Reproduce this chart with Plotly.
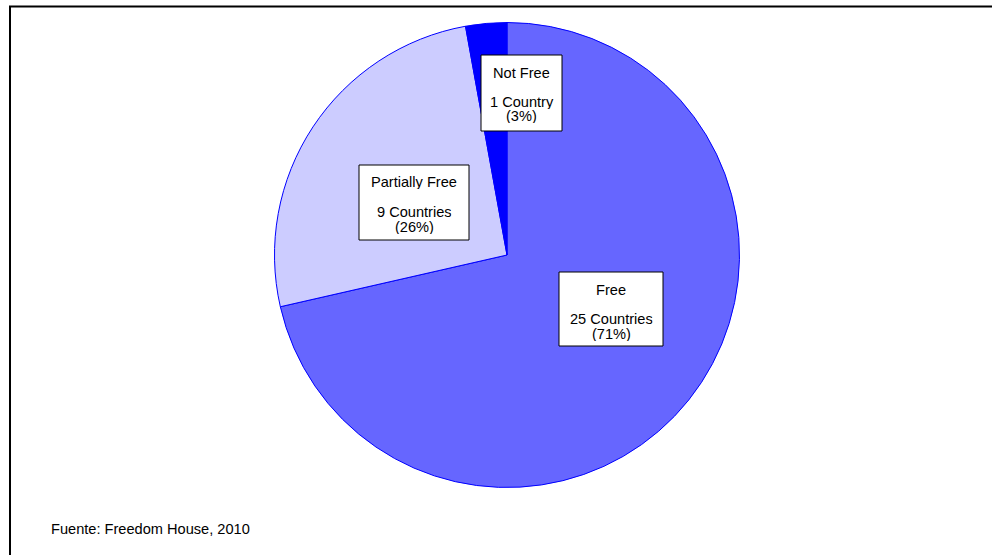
import plotly.graph_objects as go

# Freedom House 2010 status counts
categories = ["Free", "Partially Free", "Not Free"]
counts = [25, 9, 1]
colors = ["#6666FF", "#CCCCFF", "#0000FF"]
source_note = "Fuente: Freedom House, 2010"

W, H = 992, 555
FONT = "Arial, 'Liberation Sans', sans-serif"
FS = 14.6

# label box placement in pixels: (left, top, right, bottom)
label_boxes = {
    "Free": (559, 272, 663, 346),
    "Partially Free": (359, 165, 469, 240),
    "Not Free": (481, 55, 562, 131),
}


def px(x):
    return x / W


def py(y):
    return 1 - y / H


# pie occupies a square of ~465 px centred at (507, 255)
cx, cy, r = 507, 255, 232.5

fig = go.Figure(
    go.Pie(
        labels=categories,
        values=counts,
        sort=False,
        direction="clockwise",
        rotation=0,
        marker=dict(colors=colors, line=dict(color="#0000FF", width=1)),
        textinfo="none",
        hoverinfo="label+value+percent",
        domain=dict(x=[px(cx - r), px(cx + r)], y=[py(cy + r), py(cy - r)]),
        showlegend=False,
    )
)

total = sum(counts)
shapes = []
annotations = []
for cat, n in zip(categories, counts):
    l, t, rr, b = label_boxes[cat]
    shapes.append(
        dict(
            type="rect", xref="paper", yref="paper",
            x0=px(l), x1=px(rr), y0=py(b), y1=py(t),
            fillcolor="white", line=dict(color="black", width=1), layer="above",
        )
    )
    unit = "Country" if n == 1 else "Countries"
    pct = round(n / total * 100)
    lines = [(cat, 17.5), (f"{n} {unit}", 46.5), (f"({pct}%)", 61.5)]
    xc = (l + rr) / 2
    for txt, off in lines:
        annotations.append(
            dict(
                text=txt, xref="paper", yref="paper",
                x=px(xc), y=py(t + off), xanchor="center", yanchor="middle",
                height=14, borderpad=0,
                showarrow=False, font=dict(family=FONT, size=FS, color="black"),
            )
        )

annotations.append(
    dict(
        text=source_note, xref="paper", yref="paper",
        x=px(49), y=py(529), xanchor="left", yanchor="middle",
        showarrow=False, font=dict(family=FONT, size=FS, color="black"),
    )
)

# outer frame (open on the right and bottom edges of the canvas)
shapes.append(
    dict(
        type="rect", xref="paper", yref="paper",
        x0=px(10), x1=1.2, y0=-0.2, y1=py(6.5),
        line=dict(color="black", width=2), fillcolor="rgba(0,0,0,0)",
    )
)

fig.update_layout(
    width=W, height=H,
    margin=dict(l=0, r=0, t=0, b=0),
    paper_bgcolor="white",
    plot_bgcolor="white",
    shapes=shapes,
    annotations=annotations,
)

fig.write_html("out.html")
